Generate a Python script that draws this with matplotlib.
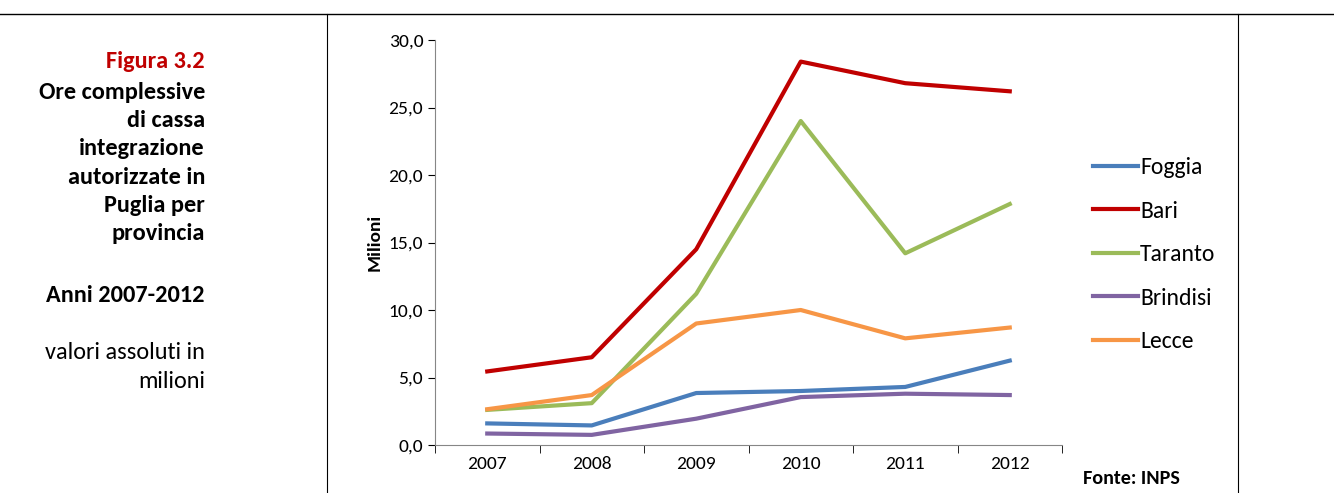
import matplotlib.pyplot as plt
import numpy as np

years = ['2007', '2008', '2009', '2010', '2011', '2012']
foggia = [1.6, 1.45, 3.85, 4.0, 4.3, 6.25]
bari = [5.45, 6.5, 14.5, 28.4, 26.8, 26.2]
taranto = [2.6, 3.1, 11.2, 24.0, 14.2, 17.85]
brindisi = [0.85, 0.75, 1.95, 3.55, 3.8, 3.7]
lecce = [2.65, 3.7, 9.0, 10.0, 7.9, 8.7]

series = [('Foggia', foggia, '#4a7ebb'), ('Bari', bari, '#c00000'),
          ('Taranto', taranto, '#9bbb59'), ('Brindisi', brindisi, '#8064a2'),
          ('Lecce', lecce, '#f79646')]

plt.rcParams['font.family'] = ['Carlito', 'Open Sans', 'DejaVu Sans']
W, H = 1334, 493
fig = plt.figure(figsize=(W / 100, H / 100), dpi=100)

ax = fig.add_axes([435 / W, 1 - 445 / H, 627 / W, 405 / H])
x = np.arange(len(years))
for name, vals, col in series:
    ax.plot(x, vals, color=col, lw=3, label=name)

ax.set_xlim(-0.5, 5.5)
ax.set_ylim(0, 30)
ax.set_yticks(np.arange(0, 31, 5))
ax.set_yticklabels([f'{v:.1f}'.replace('.', ',') for v in np.arange(0, 31, 5)], fontsize=14)
ax.set_xticks(x)
ax.set_xticklabels(years, fontsize=14)
ax.tick_params(axis='x', length=0, pad=8)
ax.set_xticks(np.arange(-0.5, 6, 1), minor=True)
ax.tick_params(axis='x', which='minor', length=6, direction='out')
ax.tick_params(axis='y', length=5, direction='out')
ax.spines['top'].set_visible(False)
ax.spines['right'].set_visible(False)
for s in ['left', 'bottom']:
    ax.spines[s].set_color('#868686')
ax.set_ylabel('Milioni', fontsize=14, fontweight='bold')

ax.legend(loc='center left', bbox_to_anchor=(1.015, 0.47), frameon=False,
          fontsize=17, handlelength=1.9, labelspacing=0.95, handletextpad=0.1)

# frame lines
fig.add_artist(plt.Line2D([0, 1], [1 - 14 / H] * 2, color='black', lw=1))
for xp in [327, 1238]:
    fig.add_artist(plt.Line2D([xp / W] * 2, [0, 1 - 14 / H], color='black', lw=0.8))

tx = 205 / W
fig.text(tx, 1 - 62 / H, 'Figura 3.2', color='#c00000', fontsize=17.5,
         fontweight='bold', ha='right', va='center')
fig.text(tx, 1 - 163 / H,
         'Ore complessive\ndi cassa\nintegrazione\nautorizzate in\nPuglia per\nprovincia',
         fontsize=17.5, fontweight='bold', ha='right', va='center', linespacing=1.42)
fig.text(tx, 1 - 295 / H, 'Anni 2007-2012', fontsize=17.5, fontweight='bold',
         ha='right', va='center')
fig.text(tx, 1 - 367 / H, 'valori assoluti in\nmilioni', fontsize=17.5,
         ha='right', va='center', linespacing=1.42)
fig.text(1083 / W, 1 - 478 / H, 'Fonte: INPS', fontsize=14.5, fontweight='bold',
         ha='left', va='center')

fig.savefig('out.png', dpi=100)
